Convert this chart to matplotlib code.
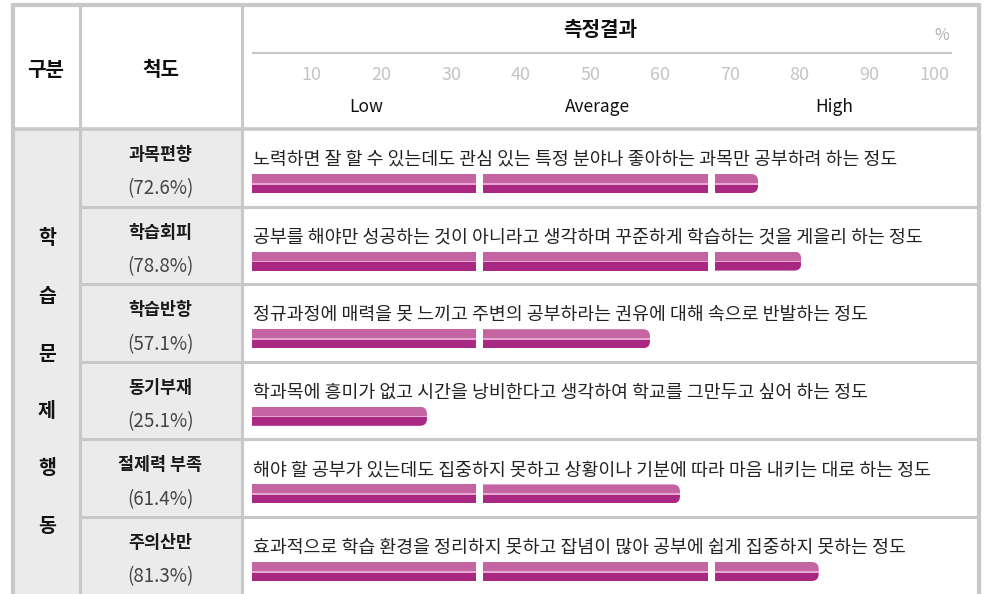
import matplotlib
matplotlib.use("Agg")
import matplotlib.pyplot as plt
from matplotlib.patches import Rectangle, FancyBboxPatch

plt.rcParams["font.family"] = ["Noto Sans CJK KR", "DejaVu Sans"]

# ---------- data ----------
group = "학습문제행동"
scales = ["과목편향", "학습회피", "학습반항", "동기부재", "절제력 부족", "주의산만"]
values = [72.6, 78.8, 57.1, 25.1, 61.4, 81.3]
descs = [
    "노력하면 잘 할 수 있는데도 관심 있는 특정 분야나 좋아하는 과목만 공부하려 하는 정도",
    "공부를 해야만 성공하는 것이 아니라고 생각하며 꾸준하게 학습하는 것을 게을리 하는 정도",
    "정규과정에 매력을 못 느끼고 주변의 공부하라는 권유에 대해 속으로 반발하는 정도",
    "학과목에 흥미가 없고 시간을 낭비한다고 생각하여 학교를 그만두고 싶어 하는 정도",
    "해야 할 공부가 있는데도 집중하지 못하고 상황이나 기분에 따라 마음 내키는 대로 하는 정도",
    "효과적으로 학습 환경을 정리하지 못하고 잡념이 많아 공부에 쉽게 집중하지 못하는 정도",
]
ticks = [10, 20, 30, 40, 50, 60, 70, 80, 90, 100]
bands = ["Low", "Average", "High"]

# ---------- layout / style ----------
W, H = 987, 594
GRID = "#c8c8c8"
CELL = "#ebebeb"
TOP_C, MID_C, BOT_C = "#c564a3", "#e7a8d2", "#a92882"
X0, X1, X2, XR = 12.5, 79.5, 241.5, 979.0   # vertical grid lines (px)
YT, YH, RH = 4.5, 129.0, 77.6               # top border, header bottom, row height
BAR_L, BAR_R = 252, 949                     # 0% and 100% in px
PPU = (BAR_R - BAR_L) / 100.0               # px per percent
SEGS = [(0, 32.2), (33.2, 65.4), (66.4, 100)]
BAR_OFF, BAR_H, RAD = 45, 19, 7

fig = plt.figure(figsize=(W / 100, H / 100), dpi=100)
ax = fig.add_axes([0, 0, 1, 1])
ax.set_xlim(0, W); ax.set_ylim(H, 0); ax.axis("off")

# cell backgrounds + grid
ax.add_patch(Rectangle((X0, YH), X2 - X0, H - YH, color=CELL, lw=0, zorder=0))
for x, lw in [(X0, 3.0), (X1, 2.2), (X2, 2.2), (XR, 3.0)]:
    ax.plot([x, x], [YT - 1.5, H], color=GRID, lw=lw, solid_capstyle="butt")
ax.plot([X0, XR], [YT, YT], color=GRID, lw=3.0, solid_capstyle="butt")
ax.plot([X0, XR], [YH, YH], color=GRID, lw=2.6, solid_capstyle="butt")
for i in range(1, len(scales)):
    y = YH + i * RH
    ax.plot([X1, XR], [y, y], color=GRID, lw=2.2, solid_capstyle="butt")
ax.plot([BAR_L, 952], [52.5, 52.5], color=GRID, lw=1.6, solid_capstyle="butt")

# header text
hdr = dict(ha="center", va="center", fontsize=14.5, fontweight="bold", color="#111111")
ax.text((X0 + X1) / 2, 70, "구분", **hdr)
ax.text((X1 + X2) / 2, 70, "척도", **hdr)
ax.text(600, 30, "측정결과", **hdr)

# group column (vertical)
for k, ch in enumerate(group):
    ax.text((X0 + X1) / 2 + 1, 239 + 57.5 * k, ch, ha="center", va="center",
            fontsize=14, fontweight="bold", color="#111111")

# scale names / percents / descriptions
for i, (nm, v, d) in enumerate(zip(scales, values, descs)):
    top = YH + i * RH
    ax.text((X1 + X2) / 2, top + 26, nm, ha="center", va="center",
            fontsize=12.5, fontweight="bold", color="#1a1a1a")
    ax.text((X1 + X2) / 2, top + 60, f"({v:.1f}%)", ha="center", va="center",
            fontsize=13.5, color="#444444")
    ax.text(BAR_L + 1, top + 31, d, ha="left", va="center", fontsize=13.2, color="#222222")

# ---------- bar axes (percent scale) ----------
bx = fig.add_axes([BAR_L / W, 0, (BAR_R - BAR_L) / W, 1])
bx.set_xlim(0, 100); bx.set_ylim(H, 0); bx.axis("off")
bx.patch.set_visible(False)

for t in ticks:
    bx.text(t, 74.5, str(t), ha="right", va="center", fontsize=13, color="#c4c4c4")
bx.text(100, 36, "%", ha="right", va="center", fontsize=11.5, color="#b0b0b0")
for k, b in enumerate(bands):
    bx.text((SEGS[k][0] + SEGS[k][1]) / 2 + 0.3, 107, b, ha="center", va="center",
            fontsize=12.5, color="#111111")

for i, v in enumerate(values):
    y0 = YH + i * RH + BAR_OFF
    for s, e in SEGS:
        if v <= s:
            break
        end = min(e, v)
        clip = None
        if v <= e:  # last segment gets the rounded right end
            pad = 2 * RAD / PPU
            clip = FancyBboxPatch((s - pad, y0), end - s + pad, BAR_H,
                                  boxstyle=f"round,pad=0,rounding_size={RAD / PPU}",
                                  mutation_aspect=PPU, transform=bx.transData)
        parts = [(y0, 9.0, TOP_C), (y0 + 9.0, 1.6, MID_C), (y0 + 10.6, BAR_H - 10.6, BOT_C)]
        for yy, hh, c in parts:
            bars = bx.barh(yy, end - s, left=s, height=hh, align="edge", color=c, lw=0)
            if clip is not None:
                for p in bars:
                    p.set_clip_path(clip)

fig.savefig("out.png", dpi=100)
